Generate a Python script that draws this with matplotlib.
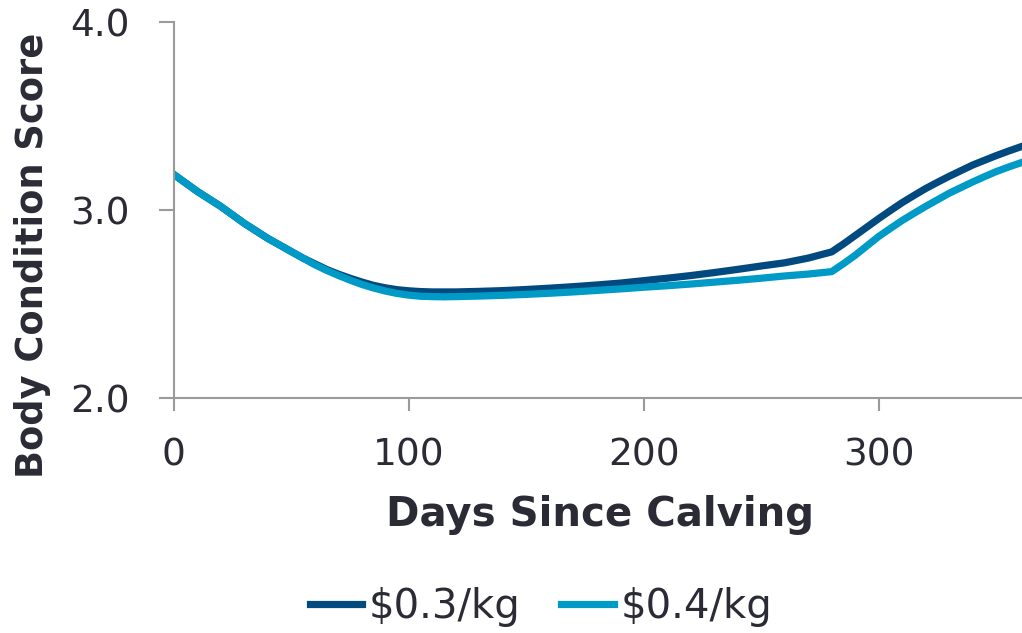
import matplotlib.pyplot as plt

days = [0, 5, 10, 15, 20, 25, 30, 35, 40, 45, 50, 55, 60, 65, 70, 75, 80, 85, 90, 95, 100,
        105, 110, 115, 120, 130, 140, 150, 160, 170, 180, 190, 200, 210, 220, 230, 240, 250,
        260, 270, 280, 285, 290, 295, 300, 305, 310, 315, 320, 325, 330, 335, 340, 345, 350,
        355, 360]

bcs_03 = [3.19, 3.145, 3.10, 3.06, 3.02, 2.975, 2.93, 2.89, 2.85, 2.815, 2.78, 2.745, 2.715,
          2.685, 2.66, 2.638, 2.618, 2.60, 2.587, 2.577, 2.571, 2.567, 2.565, 2.565, 2.565,
          2.568, 2.572, 2.578, 2.585, 2.593, 2.602, 2.612, 2.625, 2.638, 2.652, 2.668, 2.685,
          2.703, 2.72, 2.745, 2.778, 2.82, 2.865, 2.91, 2.955, 2.998, 3.04, 3.078, 3.115,
          3.148, 3.18, 3.21, 3.24, 3.265, 3.29, 3.313, 3.335]

bcs_04 = [3.19, 3.145, 3.10, 3.06, 3.02, 2.975, 2.93, 2.89, 2.85, 2.815, 2.78, 2.745, 2.71,
          2.68, 2.653, 2.628, 2.605, 2.586, 2.57, 2.557, 2.548, 2.542, 2.54, 2.539, 2.54,
          2.543, 2.547, 2.552, 2.558, 2.565, 2.573, 2.581, 2.59, 2.598, 2.607, 2.617, 2.627,
          2.638, 2.65, 2.66, 2.673, 2.715, 2.76, 2.81, 2.86, 2.903, 2.945, 2.983, 3.02,
          3.055, 3.09, 3.12, 3.15, 3.178, 3.205, 3.228, 3.25]

labels = ['$0.3/kg', '$0.4/kg']
colors = ['#004a80', '#009ac7']

x_ticks = [0, 100, 200, 300]
y_ticks = [2.0, 3.0, 4.0]

text_color = '#2b2b36'
axis_color = '#9a9a9a'

fig = plt.figure(figsize=(10.22, 6.33), dpi=100)
ax = fig.add_axes([0.170, 0.371, 0.830, 0.594])

ax.plot(days, bcs_03, color=colors[0], linewidth=5.2, label=labels[0])
ax.plot(days, bcs_04, color=colors[1], linewidth=5.2, label=labels[1])

ax.set_xlim(0, 361)
ax.set_ylim(2.0, 4.0)
ax.set_xticks(x_ticks)
ax.set_yticks(y_ticks)
ax.set_yticklabels(['%.1f' % v for v in y_ticks])

for side in ['top', 'right']:
    ax.spines[side].set_visible(False)
for side in ['left', 'bottom']:
    ax.spines[side].set_color(axis_color)
    ax.spines[side].set_linewidth(1.5)

ax.tick_params(axis='both', colors=axis_color, width=1.5, length=10, labelsize=27,
               labelcolor=text_color)
ax.tick_params(axis='x', pad=19, length=9.5)
ax.tick_params(axis='y', pad=21, length=10.5)

ax.set_xlabel('Days Since Calving', fontsize=29, fontweight='bold', color=text_color)
ax.xaxis.set_label_coords(0.503, -0.311)
ax.xaxis.label.set_va('center')
ax.set_ylabel('Body Condition Score', fontsize=26.5, fontweight='bold', color=text_color)
ax.yaxis.set_label_coords(-0.166, 0.38)
ax.yaxis.label.set_va('center')

fig.legend(loc='center', bbox_to_anchor=(541 / 1022, 1 - 607 / 633), ncol=2, frameon=False,
           fontsize=29, handlelength=1.3, handletextpad=0.17, columnspacing=1.0,
           labelcolor=text_color)

fig.savefig('out.png', dpi=100)
